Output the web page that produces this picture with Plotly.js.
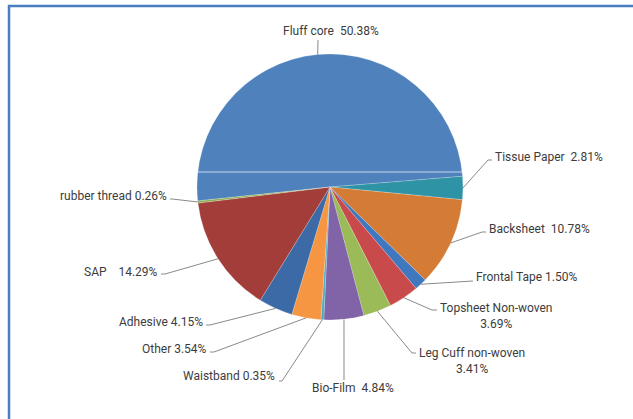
<!DOCTYPE html>
<html>
<head>
<meta charset="utf-8">
<script src="https://cdn.plot.ly/plotly-3.0.1.min.js"></script>
<style>html,body{margin:0;padding:0;background:#fff;}#chart{width:633px;height:419px;}</style>
</head>
<body>
<div id="chart"></div>
<script>
// ---- data ----
const categories = ["Fluff core", "Tissue Paper", "Backsheet", "Frontal Tape", "Topsheet Non-woven",
  "Leg Cuff non-woven", "Bio-Film", "Waistband", "Other", "Adhesive", "SAP", "rubber thread"];
const values = [50.38, 2.81, 10.78, 1.50, 3.69, 3.41, 4.84, 0.35, 3.54, 4.15, 14.29, 0.26];
const labelTexts = ["Fluff core  50.38%", "Tissue Paper  2.81%", "Backsheet  10.78%", "Frontal Tape 1.50%",
  "Topsheet Non-woven<br>3.69%", "Leg Cuff non-woven<br>3.41%", "Bio-Film  4.84%", "Waistband 0.35%",
  "Other 3.54%", "Adhesive 4.15%", "SAP    14.29%", "rubber thread 0.26%"];

// ---- styles / layout ----
const colors = ["#4f81bd", "#2f93a6", "#d47c36", "#3f78bf", "#c94a4b", "#9bbb59", "#8163a7",
  "#4bacc6", "#f69643", "#3b6aa6", "#a23d3a", "#8fae52"];
const W = 633, H = 419;
const CX = 330, CY = 187, R = 133;
const ROT = -96;
// label placement (pixels): text anchor, anchor side, leader elbow/end
const labelLayout = [
  {tx: 331, ty: 31, xa: "center", ends: [[318, 40]]},
  {tx: 493, ty: 157, xa: "left", ends: [[488, 160], [492, 160]]},
  {tx: 487, ty: 229, xa: "left", ends: [[482, 232], [486, 232]]},
  {tx: 474, ty: 277, xa: "left", ends: [[473, 281]]},
  {tx: 438, ty: 316, xa: "left", ends: [[432, 310], [437, 310]]},
  {tx: 417, ty: 361, xa: "left", ends: [[412, 353], [416, 353]]},
  {tx: 310, ty: 388, xa: "left", ends: [[344, 380]]},
  {tx: 277, ty: 376, xa: "right", ends: [[282, 381], [279, 381]]},
  {tx: 209, ty: 349, xa: "right", ends: [[214, 352], [210, 352]]},
  {tx: 205, ty: 322, xa: "right", ends: [[210, 325], [206, 325]]},
  {tx: 160, ty: 272, xa: "right", ends: [[165, 274], [161, 274]]},
  {tx: 169, ty: 196, xa: "right", ends: [[172, 199], [170, 199]]}
];

const px = x => x / W;
const py = y => 1 - y / H;

const total = values.reduce((a, b) => a + b, 0);
let cum = ROT;
const shapes = [];
const annotations = [];
values.forEach((v, i) => {
  const span = v / total * 360;
  const mid = (cum + span / 2) * Math.PI / 180;
  cum += span;
  const ex = CX + R * Math.sin(mid), ey = CY - R * Math.cos(mid);
  const L = labelLayout[i];
  let path = "M" + px(ex) + "," + py(ey);
  L.ends.forEach(p => { path += " L" + px(p[0]) + "," + py(p[1]); });
  shapes.push({type: "path", xref: "paper", yref: "paper", path: path,
    line: {color: "#8a8a8a", width: 1}});
  annotations.push({xref: "paper", yref: "paper", x: px(L.tx), y: py(L.ty),
    xanchor: L.xa, yanchor: "middle", text: labelTexts[i], showarrow: false,
    align: "center", font: {family: "Liberation Sans Narrow, Roboto, sans-serif", size: 12, color: "#3c3c3c"}});
});

// frame
shapes.push({type: "rect", xref: "paper", yref: "paper", x0: px(9), x1: px(640), y0: py(430), y1: py(6),
  line: {color: "#4a7ec0", width: 2.5}, layer: "above"});
// light streak across the picture
shapes.push({type: "line", xref: "paper", yref: "paper", x0: px(196), x1: px(464), y0: py(172), y1: py(172),
  line: {color: "rgba(230,238,248,0.8)", width: 1}, layer: "above"});

const trace = {
  type: "pie",
  labels: categories,
  values: values,
  sort: false,
  direction: "clockwise",
  rotation: ROT,
  textinfo: "none",
  hoverinfo: "label+percent",
  marker: {colors: colors, line: {color: "rgba(255,255,255,0.4)", width: 0.5}},
  domain: {x: [px(CX - R), px(CX + R)], y: [py(CY + R), py(CY - R)]},
  showlegend: false
};

Plotly.newPlot("chart", [trace], {
  width: W, height: H,
  margin: {l: 0, r: 0, t: 0, b: 0},
  paper_bgcolor: "#ffffff",
  showlegend: false,
  shapes: shapes,
  annotations: annotations
}, {displayModeBar: false, staticPlot: true});
</script>
</body>
</html>
